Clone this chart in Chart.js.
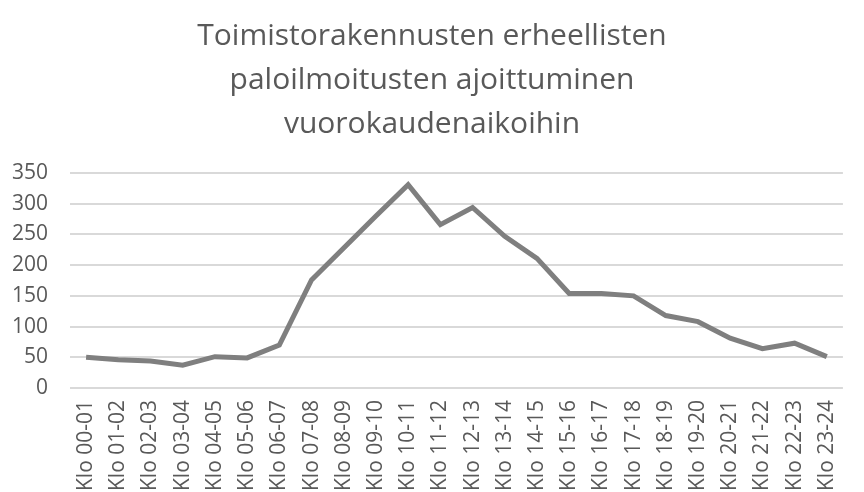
<!DOCTYPE html>
<html>
<head>
<meta charset="utf-8">
<script src="https://cdn.jsdelivr.net/npm/chart.js@4"></script>
<style>
  html, body { margin: 0; padding: 0; background: #fff; overflow: hidden; }
  #wrap { width: 864px; height: 492px; }
</style>
</head>
<body>
<div id="wrap"><canvas id="chart"></canvas></div>
<script>
var titleLines = ["Toimistorakennusten erheellisten", "paloilmoitusten ajoittuminen", "vuorokaudenaikoihin"];
var hours = ["Klo 00-01","Klo 01-02","Klo 02-03","Klo 03-04","Klo 04-05","Klo 05-06","Klo 06-07","Klo 07-08",
  "Klo 08-09","Klo 09-10","Klo 10-11","Klo 11-12","Klo 12-13","Klo 13-14","Klo 14-15","Klo 15-16",
  "Klo 16-17","Klo 17-18","Klo 18-19","Klo 19-20","Klo 20-21","Klo 21-22","Klo 22-23","Klo 23-24"];
var alarms = [50, 46, 44, 37, 51, 49, 70, 176, 228, 280, 331, 266, 294, 247, 211, 154, 154, 150, 118, 108, 81, 64, 73, 51];
var yMax = 350;
var yStep = 50;

var gray = '#595959';
var font = "'Open Sans', sans-serif";

new Chart(document.getElementById('chart'), {
  type: 'line',
  data: {
    labels: hours,
    datasets: [{
      data: alarms,
      borderColor: '#7f7f7f',
      borderWidth: 5,
      pointRadius: 0,
      tension: 0,
      fill: false
    }]
  },
  options: {
    responsive: true,
    maintainAspectRatio: false,
    animation: false,
    layout: { padding: { left: 0, right: 0, top: 14, bottom: 0 } },
    plugins: {
      legend: { display: false },
      tooltip: { enabled: false },
      title: {
        display: true,
        text: titleLines,
        color: gray,
        font: { family: font, size: 30, weight: 'normal', lineHeight: 1.467 },
        padding: { top: 0, bottom: 27 }
      }
    },
    scales: {
      x: {
        offset: true,
        grid: { display: false, drawTicks: false },
        border: { display: false },
        ticks: {
          color: gray,
          font: { family: font, size: 21 },
          minRotation: 90,
          maxRotation: 90,
          autoSkip: false,
          padding: 12
        },
        // labels run past the bottom edge, as in the original
        afterFit: function (scale) { scale.height = 104; }
      },
      y: {
        min: 0,
        max: yMax,
        grid: { color: '#d9d9d9', lineWidth: 2, drawTicks: false },
        border: { display: false },
        ticks: {
          stepSize: yStep,
          color: gray,
          font: { family: font, size: 21 },
          padding: 22
        },
        afterFit: function (scale) { scale.width = 70; }
      }
    }
  }
});
</script>
</body>
</html>
